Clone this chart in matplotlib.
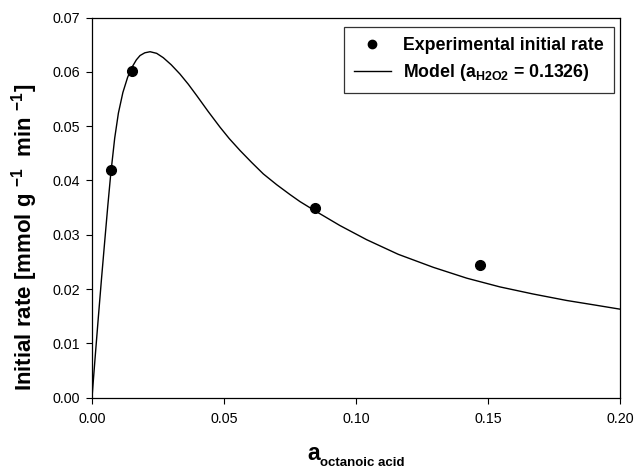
import matplotlib
matplotlib.use("Agg")
import matplotlib.pyplot as plt

plt.rcParams['font.family'] = ['Liberation Sans', 'DejaVu Sans']
plt.rcParams['mathtext.fontset'] = 'custom'
plt.rcParams['mathtext.rm'] = 'Liberation Sans:bold'
plt.rcParams['mathtext.bf'] = 'Liberation Sans:bold'
plt.rcParams['mathtext.it'] = 'Liberation Sans:bold'

# Experimental data
exp_x = [0.0071, 0.0151, 0.0845, 0.1471]
exp_y = [0.0419, 0.0602, 0.0349, 0.0244]

# Model curve
model_x = [0.0, 0.0012, 0.0024, 0.0036, 0.0048, 0.0060, 0.0071, 0.0086, 0.0100,
           0.0117, 0.0135, 0.0151, 0.0168, 0.0182, 0.0200, 0.0220, 0.0245,
           0.0270, 0.0300, 0.0333, 0.0365, 0.0397, 0.0440, 0.0485, 0.0520,
           0.0561, 0.0605, 0.0649, 0.0700, 0.0750, 0.0788, 0.0845, 0.0939,
           0.1040, 0.1160, 0.1293, 0.1420, 0.1545, 0.1670, 0.1798, 0.1900,
           0.2000]
model_y = [0.0, 0.0075, 0.0148, 0.0219, 0.0287, 0.0354, 0.0412, 0.0478, 0.0524,
           0.0562, 0.0590, 0.0608, 0.0622, 0.0630, 0.0635, 0.0637, 0.0634,
           0.0626, 0.0613, 0.0596, 0.0577, 0.0556, 0.0527, 0.0498, 0.0477,
           0.0455, 0.0433, 0.0412, 0.0392, 0.0374, 0.0361, 0.0344, 0.0317,
           0.0291, 0.0264, 0.0240, 0.0220, 0.0204, 0.0191, 0.0179, 0.0171,
           0.0163]

xticks = [0.00, 0.05, 0.10, 0.15, 0.20]
yticks = [0.00, 0.01, 0.02, 0.03, 0.04, 0.05, 0.06, 0.07]

fig = plt.figure(figsize=(6.35, 4.68), dpi=100)
ax = fig.add_axes([92/635, 1 - 397.7/468, (620-92)/635, (397.7-17.5)/468])

ax.plot(model_x, model_y, color='black', lw=1.0, solid_joinstyle='round',
        label=r'Model (a$_{\mathbf{H2O2}}$ = 0.1326)')
ax.plot(exp_x, exp_y, 'o', color='black', markersize=7, ls='none',
        label='Experimental initial rate')

ax.set_xlim(0, 0.20)
ax.set_ylim(0, 0.07)
ax.set_xticks(xticks)
ax.set_xticklabels([f'{v:.2f}' for v in xticks], fontsize=10.3)
ax.set_yticks(yticks)
ax.set_yticklabels([f'{v:.2f}' for v in yticks], fontsize=10.3)
ax.tick_params(direction='out', length=4.3, width=0.8, top=False, right=False)
ax.tick_params(axis='x', pad=6)
ax.tick_params(axis='y', pad=4.5)
for s in ax.spines.values():
    s.set_linewidth(0.9)

ax.set_ylabel('Initial rate [mmol g $^{-1}$  min $^{-1}$]',
              fontsize=16, fontweight='bold')
ax.yaxis.set_label_coords(-0.099, (397.7 - 237) / 380.2)

# x label: large "a" with small subscript
fig.text(307/635, 1 - 460/468, 'a', fontsize=16.5, fontweight='bold',
         ha='left', va='baseline')
fig.text(320/635, 1 - 466/468, 'octanoic acid', fontsize=9.5, fontweight='bold',
         ha='left', va='baseline')

handles, labels = ax.get_legend_handles_labels()
leg = ax.legend([handles[1], handles[0]], [labels[1], labels[0]],
                loc='upper right', bbox_to_anchor=((614-92)/528, (397.7-27)/380.2),
                frameon=True, fancybox=False, edgecolor='black',
                prop={'weight': 'bold', 'size': 12.8},
                handlelength=2.1, borderpad=0.55, labelspacing=0.45,
                handletextpad=0.7, borderaxespad=0)
leg.get_frame().set_linewidth(0.9)
leg.legend_handles[0].set_markersize(6)

fig.savefig('out.png', dpi=100)
